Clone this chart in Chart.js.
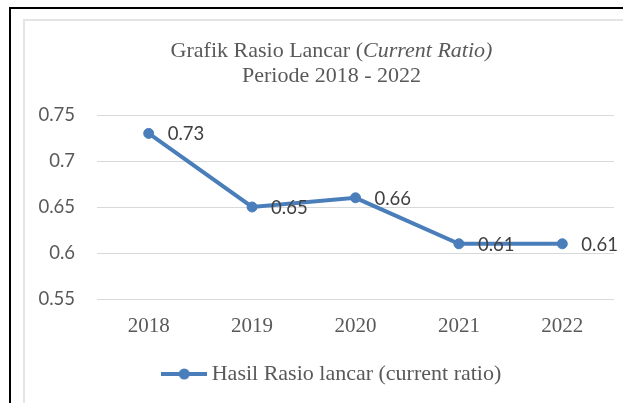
<!DOCTYPE html>
<html>
<head>
<meta charset="utf-8">
<script src="https://cdn.jsdelivr.net/npm/chart.js@4/dist/chart.umd.min.js"></script>
<style>
  html, body { margin: 0; padding: 0; background: #fff; }
  body { width: 623px; height: 403px; overflow: hidden; position: relative; }
  .outer { position: absolute; left: 9px; top: 7px; width: 700px; height: 500px; border-left: 2px solid #000; border-top: 2px solid #000; }
  .inner { position: absolute; left: 23px; top: 19px; width: 700px; height: 500px; border-left: 2px solid #e4e4e4; border-top: 2px solid #e4e4e4; }
  .wrap { position: absolute; left: 25px; top: 21px; width: 613px; height: 382px; }
  .title { position: absolute; left: 25px; top: 37px; width: 613px; text-align: center; font: 22px/25px "Liberation Serif", serif; color: #595959; }
</style>
</head>
<body>
<div class="outer"></div>
<div class="inner"></div>
<div class="wrap"><canvas id="ratioChart"></canvas></div>
<div class="title">Grafik Rasio Lancar (<i>Current Ratio)</i><br>Periode 2018 - 2022</div>
<script>
const years = ['2018', '2019', '2020', '2021', '2022'];
const currentRatio = [0.73, 0.65, 0.66, 0.61, 0.61];
const yTicks = [0.55, 0.6, 0.65, 0.7, 0.75];
const seriesName = 'Hasil Rasio lancar (current ratio)';

const blue = '#4a7ebb';
const grey = '#595959';

// legend marker: line with a dot in the middle
const marker = document.createElement('canvas');
marker.width = 46; marker.height = 14;
(() => {
    const c = marker.getContext('2d');
    c.strokeStyle = blue; c.lineWidth = 4;
    c.beginPath(); c.moveTo(0, 7); c.lineTo(46, 7); c.stroke();
    c.fillStyle = blue;
    c.beginPath(); c.arc(23, 7, 5.5, 0, Math.PI * 2); c.fill();
})();

// value labels to the right of each point
const valueLabels = {
    id: 'valueLabels',
    afterLayout(chart) {
        // the original frame is wider than the picture, so the legend sits right of centre
        chart.legend.left += 15;
        chart.legend.right += 15;
    },
    afterDatasetsDraw(chart) {
        const ctx = chart.ctx;
        const meta = chart.getDatasetMeta(0);
        ctx.save();
        ctx.font = '18.5px Lato, sans-serif';
        ctx.fillStyle = '#404040';
        ctx.textAlign = 'left';
        ctx.textBaseline = 'middle';
        meta.data.forEach((pt, i) => {
            ctx.fillText(String(currentRatio[i]), pt.x + 19, pt.y + 1);
        });
        ctx.restore();
    }
};

new Chart(document.getElementById('ratioChart'), {
    type: 'line',
    data: {
        labels: years,
        datasets: [{
            label: seriesName,
            data: currentRatio,
            borderColor: blue,
            backgroundColor: blue,
            borderWidth: 4,
            pointRadius: 5,
            pointBorderWidth: 1,
            pointBackgroundColor: blue,
            pointBorderColor: blue,
            pointStyle: 'circle',
            tension: 0
        }]
    },
    options: {
        responsive: true,
        maintainAspectRatio: false,
        animation: false,
        layout: { padding: { left: 0, top: 94, right: 24, bottom: 8 } },
        scales: {
            x: {
                offset: true,
                grid: { display: false, drawTicks: false },
                border: { display: false },
                ticks: { padding: 15, color: grey, font: { family: '"Liberation Serif", serif', size: 21 } },
                afterFit(s) { s.height = 54; }
            },
            y: {
                min: 0.55,
                max: 0.75,
                afterBuildTicks(s) { s.ticks = yTicks.map(v => ({ value: v })); },
                grid: { color: '#d9d9d9', lineWidth: 1, drawTicks: false },
                border: { display: false },
                ticks: {
                    padding: 22,
                    color: grey,
                    font: { family: 'Lato, sans-serif', size: 18.5 },
                    callback: v => String(parseFloat(v.toFixed(2)))
                },
                afterFit(s) { s.width = 72; }
            }
        },
        plugins: {
            title: { display: false },
            tooltip: { enabled: false },
            legend: {
                position: 'bottom',
                labels: {
                    usePointStyle: true,
                    pointStyleWidth: 33,
                    color: grey,
                    padding: 10,
                    font: { family: '"Liberation Serif", serif', size: 22 },
                    generateLabels: chart => [{
                        text: seriesName,
                        pointStyle: marker,
                        fillStyle: blue,
                        strokeStyle: blue,
                        lineWidth: 0,
                        fontColor: grey,
                        datasetIndex: 0,
                        hidden: false
                    }]
                }
            }
        }
    },
    plugins: [valueLabels]
});
</script>
</body>
</html>
